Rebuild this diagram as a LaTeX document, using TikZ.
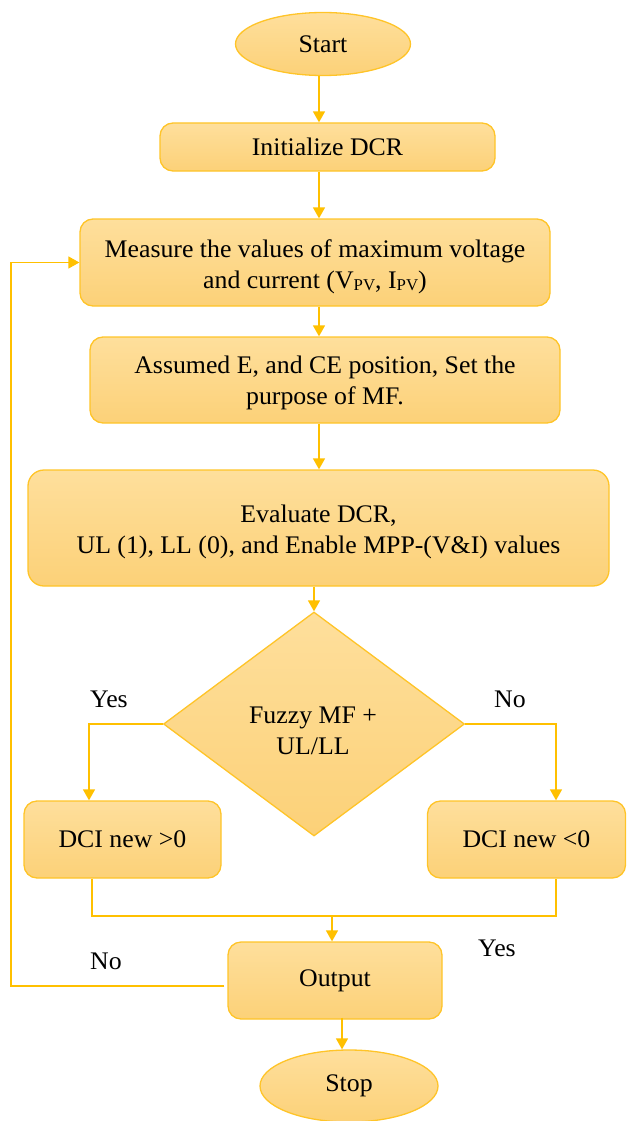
\documentclass[tikz,border=0pt]{standalone}
\usepackage{fontspec}
\setmainfont[FakeStretch=1.02]{Liberation Serif}
\usetikzlibrary{shapes.geometric,arrows.meta}

\definecolor{flowedge}{RGB}{255,196,40}
\definecolor{flowline}{RGB}{255,192,0}
\definecolor{filltop}{RGB}{254,223,156}
\definecolor{fillbot}{RGB}{252,209,120}

\tikzset{
  every node/.style={font=\fontsize{25.3}{31}\selectfont, inner sep=0pt, align=center},
  boxbase/.style={draw=flowedge, line width=1.3pt, top color=filltop, bottom color=fillbot},
  procbox/.style={boxbase, rectangle, rounded corners=13pt},
  termbox/.style={boxbase, ellipse},
  decbox/.style={boxbase, diamond},
  flow/.style={draw=flowline, line width=1.5pt},
  arr/.style={flow, -{Triangle[length=11pt,width=12pt]}},
  lbl/.style={font=\fontsize{25.3}{30}\selectfont},
}
\newcommand{\pvsub}{\raisebox{-2pt}{\fontsize{16.5}{16.5}\selectfont PV}}

\begin{document}
\begin{tikzpicture}[x=1pt,y=-1pt]
\useasboundingbox (0,0) rectangle (627,1121);

% shapes
\node[termbox, minimum width=175pt, minimum height=63pt] (start) at (323,44) {Start};
\node[procbox, minimum width=335pt, minimum height=48pt] (init) at (327.5,147) {Initialize DCR};
\node[procbox, minimum width=470pt, minimum height=87pt] (measure) at (315,262.5) {};
\node[procbox, minimum width=470pt, minimum height=86pt] (assume) at (325,380) {};
\node[procbox, rounded corners=16pt, minimum width=581pt, minimum height=116pt] (eval) at (318.5,528) {};
\node[decbox, minimum width=301pt, minimum height=224pt, aspect=1.34] (dec) at (314,724) {};
\node[procbox, minimum width=197pt, minimum height=77pt] (pos) at (122.5,839.5) {DCI new >0};
\node[procbox, minimum width=198pt, minimum height=77pt] (neg) at (526.5,839.5) {DCI new <0};
\node[procbox, minimum width=214pt, minimum height=77pt] (out) at (335,980.5) {Output};
\node[termbox, minimum width=178pt, minimum height=72pt] (stop) at (349,1086) {Stop};

% multi-line texts
\node[yshift=-4pt] (measuretext) at (measure.center)
  {Measure the values of maximum voltage\\ and current (V\pvsub, I\pvsub)};
\node[yshift=-3pt] (assumetext) at (assume.center)
  {Assumed E, and CE position, Set the\\ purpose of MF.};
\node[yshift=-4pt] (evaltext) at (eval.center)
  {Evaluate DCR,\\ UL (1), LL (0), and Enable MPP-(V\&I) values};
\node (dectext) at (313,731) {Fuzzy MF +\\ UL/LL};

% labels
\node[lbl] (yes1) at (109,699) {Yes};
\node[lbl] (no1) at (510,699) {No};
\node[lbl] (yes2) at (497,948) {Yes};
\node[lbl] (no2) at (106,961) {No};

% helper coordinates for connector columns
\coordinate (spine) at (319,0);
\coordinate (yesx) at (89,0);
\coordinate (nox) at (556,0);
\coordinate (posx) at (92,0);
\coordinate (mergey) at (0,916);
\coordinate (joinx) at (332,0);
\coordinate (stopx) at (342,0);
\coordinate (loopx) at (11,0);

% main flow
\draw[arr] (start.south -| spine) -- (init.north -| spine);
\draw[arr] (init.south -| spine) -- (measure.north -| spine);
\draw[arr] (measure.south -| spine) -- (assume.north -| spine);
\draw[arr] (assume.south -| spine) -- (eval.north -| spine);
\draw[arr] (eval.south -| dec.north) -- (dec.north);

% decision branches
\draw[arr] (dec.west) -- (dec.west -| yesx) -- (pos.north -| yesx);
\draw[arr] (dec.east) -- (dec.east -| nox) -- (neg.north -| nox);

% merge into output
\draw[flow] (pos.south -| posx) -- (mergey -| posx) -- (mergey -| nox) -- (neg.south -| nox);
\draw[arr] (mergey -| joinx) -- (out.north -| joinx);

% feedback loop
\coordinate (loopy) at (0,986);
\draw[arr] ([xshift=-3pt]out.west |- loopy) -- (loopy -| loopx) -- (measure.west -| loopx) -- (measure.west);

% to stop
\draw[arr] ([yshift=2pt]out.south -| stopx) -- (stop.north -| stopx);
\end{tikzpicture}
\end{document}
